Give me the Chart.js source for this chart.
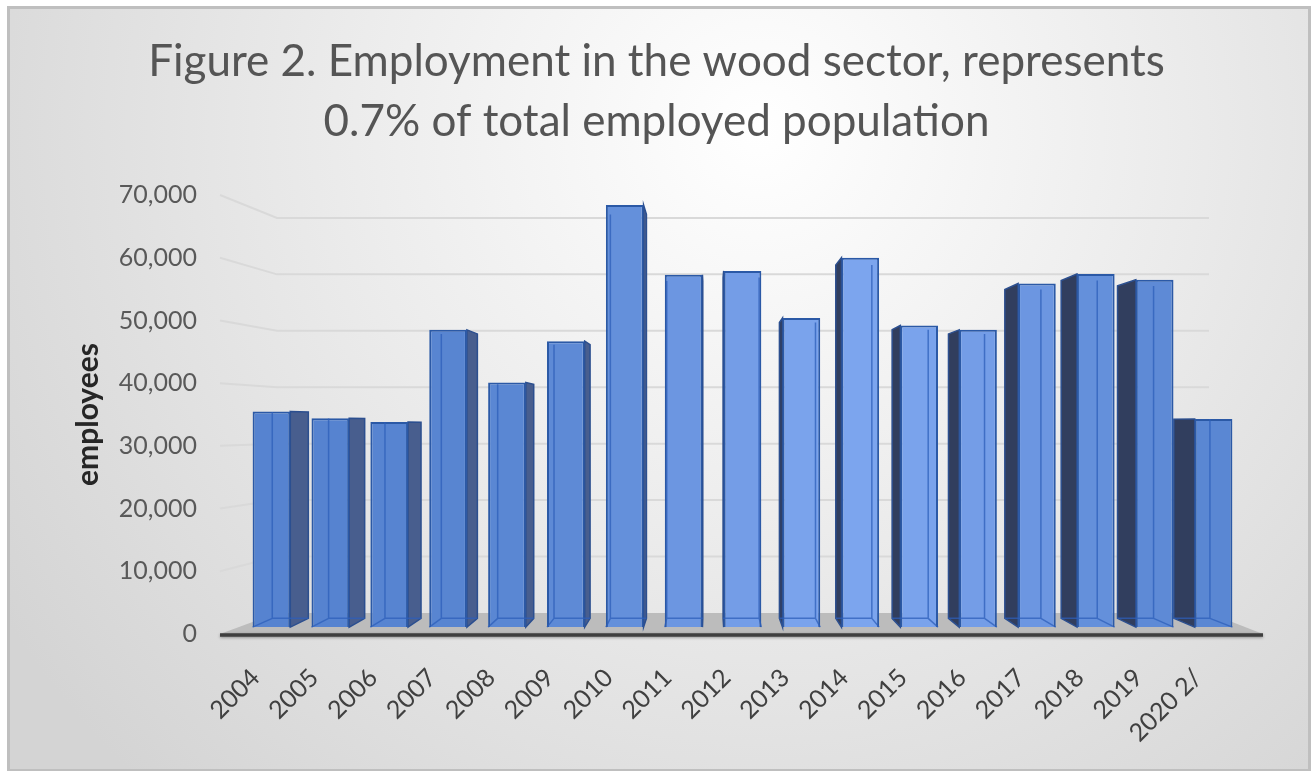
<!DOCTYPE html>
<html lang="en">
<head>
<meta charset="UTF-8">
<title>Employment in the wood sector</title>
<style>
  body { margin: 0; background: #fff; }
  .wrap { width: 1311px; height: 771px; position: relative; }
</style>
</head>
<body>
<div class="wrap"><canvas id="chart"></canvas></div>
<script src="https://cdn.jsdelivr.net/npm/chart.js"></script>
<script>
// employees in the wood sector per year
const years = ['2004', '2005', '2006', '2007', '2008', '2009', '2010', '2011', '2012',
  '2013', '2014', '2015', '2016', '2017', '2018', '2019', '2020 2/'];
const employees = [35500, 34400, 33800, 48500, 40100, 46700, 68400, 57300, 57900,
  50400, 60000, 49200, 48500, 55900, 57400, 56500, 34300];
const yMax = 70000;
const yStep = 10000;

// fake 3d: one vanishing point, bars and walls shrink towards it
const VP_X = 710;
const VP_Y = 424;
const BAR_K = 0.957;
const WALL_K = 0.9;

function toBack(x, y, k) {
  return [VP_X + (x - VP_X) * k, VP_Y + (y - VP_Y) * k];
}

function mix(a, b, t) {
  return a.map((v, i) => Math.round(v + (b[i] - v) * t));
}

// front faces get a bit lighter around 2014, where the light hits
function barColor(ctx) {
  const t = Math.exp(-Math.pow((ctx.dataIndex - 10) / 4, 2));
  const c = mix([86, 131, 208], [124, 165, 238], t);
  return `rgb(${c[0]},${c[1]},${c[2]})`;
}

const backgroundPlugin = {
  id: 'background',
  beforeDraw(chart) {
    const ctx = chart.ctx;
    const w = chart.width, h = chart.height;
    ctx.save();
    ctx.fillStyle = '#ffffff';
    ctx.fillRect(0, 0, w, h);
    const g = ctx.createRadialGradient(760, 130, 0, 760, 130, 900);
    g.addColorStop(0, '#ffffff');
    g.addColorStop(0.45, '#ececec');
    g.addColorStop(1, '#d4d4d4');
    ctx.fillStyle = g;
    ctx.fillRect(9, 8, w - 11, h - 9);
    ctx.strokeStyle = '#bfbfbf';
    ctx.lineWidth = 3;
    ctx.strokeRect(8.5, 7.5, w - 10, h - 8);
    ctx.restore();
  }
};

// back wall gridlines, side wall segments and the floor
const wallPlugin = {
  id: 'walls',
  beforeDatasetsDraw(chart) {
    const ctx = chart.ctx;
    const y = chart.scales.y;
    const area = chart.chartArea;
    const frontL = area.left - 22;
    const frontR = area.right + 20;
    const backL = frontL + 57;
    const backR = frontR - 54;
    ctx.save();
    ctx.lineWidth = 2;
    ctx.strokeStyle = '#d9d9d9';
    for (let v = yStep; v <= yMax; v += yStep) {
      const yf = y.getPixelForValue(v);
      const yb = toBack(0, yf, WALL_K)[1];
      ctx.beginPath();
      ctx.moveTo(frontL, yf);
      ctx.lineTo(backL, yb);
      ctx.lineTo(backR, yb);
      ctx.stroke();
    }
    // floor
    const y0 = y.getPixelForValue(0);
    const yb0 = toBack(0, y0, WALL_K)[1];
    ctx.fillStyle = '#bcbcbc';
    ctx.beginPath();
    ctx.moveTo(frontL, y0);
    ctx.lineTo(backL, yb0);
    ctx.lineTo(backR, yb0);
    ctx.lineTo(frontR, y0);
    ctx.closePath();
    ctx.fill();
    ctx.strokeStyle = '#3f3f3f';
    ctx.lineWidth = 3.5;
    ctx.shadowColor = 'rgba(0,0,0,0.35)';
    ctx.shadowBlur = 3;
    ctx.shadowOffsetY = 1;
    ctx.beginPath();
    ctx.moveTo(frontL, y0 + 1);
    ctx.lineTo(frontR, y0 + 1);
    ctx.stroke();
    ctx.restore();

    // side faces of the bars
    const meta = chart.getDatasetMeta(0);
    ctx.save();
    meta.data.forEach(bar => {
      const {x, y: top, base, width} = bar.getProps(['x', 'y', 'base', 'width'], true);
      const left = x < VP_X;
      const ex = left ? x + width / 2 : x - width / 2;
      const tb = toBack(ex, top, BAR_K);
      const bb = toBack(ex, base, BAR_K);
      ctx.fillStyle = left ? '#485e8e' : '#313e5e';
      ctx.strokeStyle = '#2c4f8f';
      ctx.lineWidth = 1.5;
      ctx.beginPath();
      ctx.moveTo(ex, top);
      ctx.lineTo(tb[0], tb[1]);
      ctx.lineTo(bb[0], bb[1]);
      ctx.lineTo(ex, base);
      ctx.closePath();
      ctx.fill();
      ctx.stroke();
    });
    ctx.restore();
  },
  afterDatasetsDraw(chart) {
    // hidden back edges showing through the front face
    const ctx = chart.ctx;
    const meta = chart.getDatasetMeta(0);
    ctx.save();
    ctx.strokeStyle = 'rgba(45,95,185,0.75)';
    ctx.lineWidth = 1.5;
    meta.data.forEach(bar => {
      const {x, y: top, base, width} = bar.getProps(['x', 'y', 'base', 'width'], true);
      const l = x - width / 2, r = x + width / 2;
      const inner = x < VP_X ? l : r;
      const c = toBack(r, base, BAR_K), d = toBack(l, base, BAR_K);
      const ib = toBack(inner, base, BAR_K), it = toBack(inner, top, BAR_K);
      ctx.beginPath();
      ctx.moveTo(it[0], it[1]);
      ctx.lineTo(ib[0], ib[1]);
      ctx.moveTo(d[0], d[1]);
      ctx.lineTo(c[0], c[1]);
      ctx.moveTo(inner, base);
      ctx.lineTo(ib[0], ib[1]);
      ctx.stroke();
    });
    ctx.restore();
  }
};

new Chart(document.getElementById('chart'), {
  type: 'bar',
  data: {
    labels: years,
    datasets: [{
      label: 'employees',
      data: employees,
      base: 1100,
      backgroundColor: barColor,
      borderColor: '#2b59a6',
      borderWidth: 2,
      barPercentage: 0.64,
      categoryPercentage: 1
    }]
  },
  options: {
    responsive: true,
    maintainAspectRatio: false,
    animation: false,
    layout: { padding: { left: 70, right: 68, top: 0, bottom: 0 } },
    plugins: {
      legend: { display: false },
      tooltip: { enabled: false },
      title: {
        display: true,
        text: ['Figure 2. Employment in the wood sector, represents', '0.7% of total employed population'],
        color: '#555555',
        font: { family: 'Lato', size: 44, weight: 'normal', lineHeight: 1.364 },
        padding: { top: 32, bottom: 43 }
      }
    },
    scales: {
      x: {
        grid: { display: false },
        border: { display: false },
        ticks: {
          color: '#404040',
          font: { family: 'Lato', size: 25 },
          maxRotation: 45,
          minRotation: 45,
          padding: 21,
          labelOffset: -16
        },
        afterFit(scale) { scale.height = 137; }
      },
      y: {
        min: 0,
        max: yMax,
        grid: { display: false, drawTicks: false },
        border: { display: false },
        ticks: {
          stepSize: yStep,
          color: '#595959',
          font: { family: 'Lato', size: 25 },
          padding: 45,
          callback: v => v.toLocaleString('en-US')
        },
        title: {
          display: true,
          text: 'employees',
          color: '#262626',
          font: { family: 'Lato', size: 30, weight: 'bold' },
          padding: { top: 0, bottom: 0 }
        },
        afterFit(scale) { scale.width = 172; }
      }
    }
  },
  plugins: [backgroundPlugin, wallPlugin]
});
</script>
</body>
</html>
